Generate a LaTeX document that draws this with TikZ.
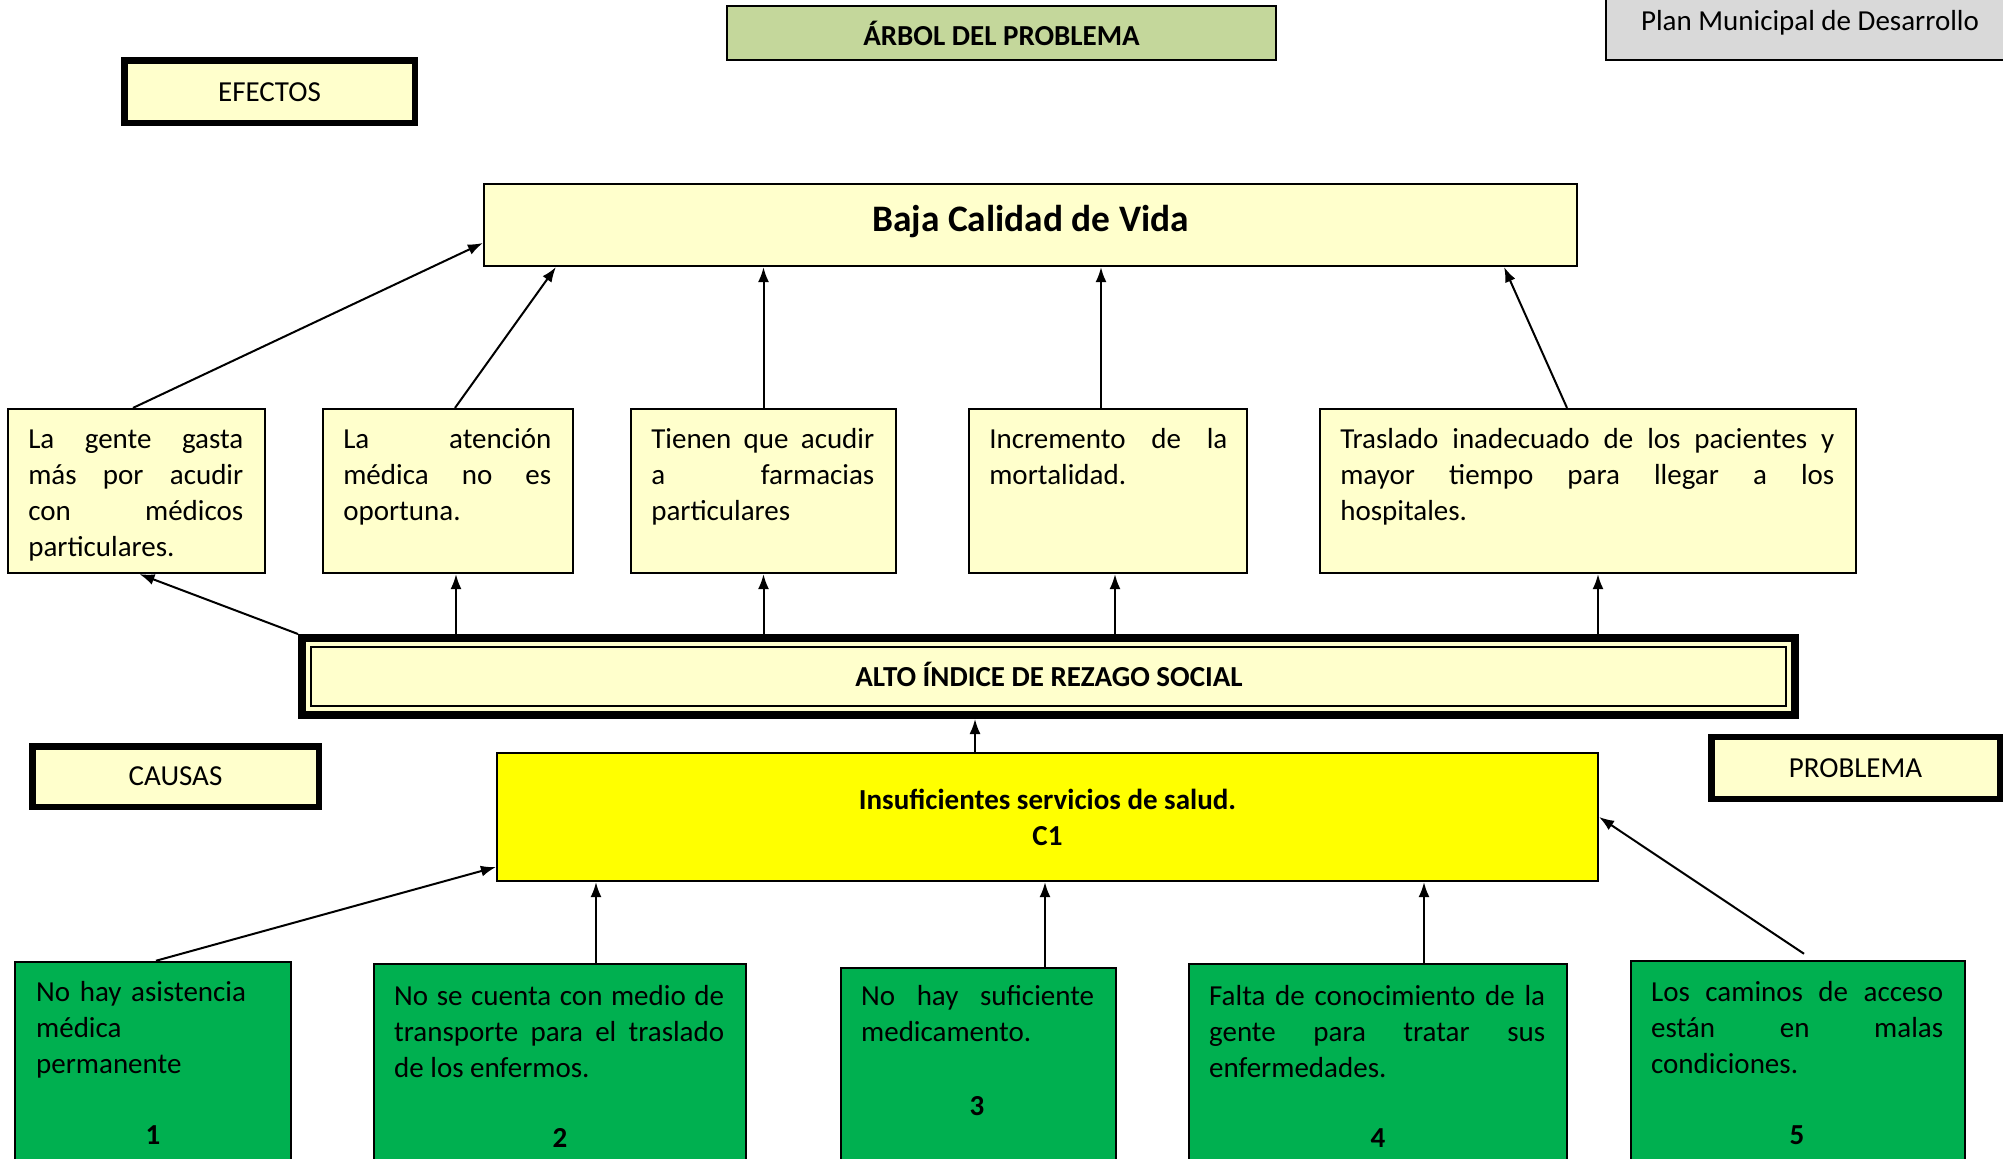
\documentclass[tikz,border=0pt]{standalone}
\usepackage{fontspec}
\setmainfont{Carlito}
\usetikzlibrary{arrows.meta,calc}
\hyphenpenalty=10000
\exhyphenpenalty=10000
\hbadness=10000
\definecolor{lyel}{HTML}{FFFFCC}
\definecolor{cgreen}{HTML}{00B050}
\definecolor{tgreen}{HTML}{C4D79B}
\definecolor{lgray}{HTML}{D9D9D9}
\definecolor{byel}{HTML}{FFFF00}
\begin{document}
\begin{tikzpicture}[x=0.5pt,y=-0.5pt,
  every node/.style={font=\fontsize{14.5}{18}\selectfont, inner sep=0pt},
  thinbox/.style={draw=black, line width=1.1pt, rectangle},
  effbox/.style={thinbox, fill=lyel, minimum height=82pt},
  causebox/.style={thinbox, fill=cgreen, line width=1.25pt},
  thickbox/.style={draw=black, line width=3.25pt, fill=lyel, rectangle},
  txt/.style={anchor=north west, align=justify},
  ltxt/.style={anchor=north west, align=left},
  num/.style={font=\fontsize{14.5}{18}\selectfont\bfseries},
  arr/.style={-{Latex[length=7.5pt,width=5.5pt]}, line width=1pt}]
\useasboundingbox (0,0) rectangle (2003,1158);
% header boxes
\node[thinbox, fill=tgreen, minimum width=274.5pt, minimum height=27pt, font=\fontsize{14.5}{18}\selectfont\bfseries] (title) at (1001.5,33) {ÁRBOL DEL PROBLEMA};
\node[thinbox, fill=lgray, minimum width=202pt, minimum height=43pt] (plan) at (1808,17) {};
\node (plant) at (1810,23) {Plan Municipal de Desarrollo};
\node[thickbox, minimum width=145.25pt, minimum height=31.25pt] (efectos) at (269.5,91.75) {EFECTOS};
\node[thickbox, minimum width=143.25pt, minimum height=30.25pt] (causas) at (175.5,776.5) {CAUSAS};
\node[thickbox, minimum width=144.25pt, minimum height=31pt] (problema) at (1855.5,768) {PROBLEMA};
% top effect
\node[thinbox, fill=lyel, minimum width=546.5pt, minimum height=41pt] (baja) at (1030.5,225) {};
\node[font=\fontsize{18.7}{22}\selectfont\bfseries] (bajat) at (1030.5,222) {Baja Calidad de Vida};
% effects
\node[effbox, minimum width=128.5pt] (e1) at (136.5,491) {};
\node[effbox, minimum width=125pt] (e2) at (448,491) {};
\node[effbox, minimum width=132.5pt] (e3) at (763.5,491) {};
\node[effbox, minimum width=139pt] (e4) at (1108,491) {};
\node[effbox, minimum width=268pt] (e5) at (1588,491) {};
\node[txt, text width=107.5pt] (e1t) at ([xshift=10.5pt,yshift=-7.5pt]e1.north west) {\strut La gente gasta\linebreak más por acudir\linebreak con médicos\linebreak particulares.};
\node[txt, text width=104pt] (e2t) at ([xshift=10.5pt,yshift=-7.5pt]e2.north west) {\strut La atención\linebreak médica no es\linebreak oportuna.};
\node[txt, text width=111.5pt] (e3t) at ([xshift=10.5pt,yshift=-7.5pt]e3.north west) {\strut Tienen que acudir\linebreak a farmacias\linebreak particulares};
\node[txt, text width=119pt] (e4t) at ([xshift=10.5pt,yshift=-7.5pt]e4.north west) {\strut Incremento de la\linebreak mortalidad.};
\node[txt, text width=247pt] (e5t) at ([xshift=10.5pt,yshift=-7.5pt]e5.north west) {\strut Traslado inadecuado de los pacientes y\linebreak mayor tiempo para llegar a los\linebreak hospitales.};
% central problem
\node[draw=black, line width=4pt, fill=lyel, rectangle, minimum width=746.5pt, minimum height=38.5pt] (alto) at (1048.5,676.5) {};
\node[draw=black, line width=1pt, fill=lyel, rectangle, minimum width=737.5pt, minimum height=29.5pt] (altoin) at (1048.5,676.5) {};
\node[font=\fontsize{14.5}{18}\selectfont\bfseries] (altot) at (1049,674) {ALTO ÍNDICE DE REZAGO SOCIAL};
% main cause
\node[thinbox, fill=byel, minimum width=550.5pt, minimum height=64pt, align=center, font=\fontsize{14.5}{18}\selectfont\bfseries] (insuf) at (1047.5,817) {Insuficientes servicios de salud.\\C1};
% causes
\node[causebox, minimum width=138pt, minimum height=106.5pt] (c1) at (153,1068.5) {};
\node[causebox, minimum width=186pt, minimum height=105.5pt] (c2) at (560,1069.5) {};
\node[causebox, minimum width=137.5pt, minimum height=103.5pt] (c3) at (978.5,1071.5) {};
\node[causebox, minimum width=189pt, minimum height=105.5pt] (c4) at (1378,1069.5) {};
\node[causebox, minimum width=167pt, minimum height=107pt] (c5) at (1798,1068) {};
\node[ltxt, text width=117pt] (c1t) at ([xshift=11pt,yshift=-7.5pt]c1.north west) {\strut No hay asistencia\\médica\\permanente};
\node[txt, text width=165pt] (c2t) at ([xshift=10.5pt,yshift=-8.5pt]c2.north west) {\strut No se cuenta con medio de\linebreak transporte para el traslado\linebreak de los enfermos.};
\node[txt, text width=116.5pt] (c3t) at ([xshift=10.5pt,yshift=-6.8pt]c3.north west) {\strut No hay suficiente\linebreak medicamento.};
\node[txt, text width=168pt] (c4t) at ([xshift=10.5pt,yshift=-8.5pt]c4.north west) {\strut Falta de conocimiento de la\linebreak gente para tratar sus\linebreak enfermedades.};
\node[txt, text width=146pt] (c5t) at ([xshift=10.5pt,yshift=-8pt]c5.north west) {\strut Los caminos de acceso\linebreak están en malas\linebreak condiciones.};
\node[num] (n1) at (153,1135) {1};
\node[num] (n2) at (560,1138) {2};
\node[num] (n3) at (977,1106) {3};
\node[num] (n4) at (1378,1138) {4};
\node[num] (n5) at (1797,1135) {5};
% connectors: alto -> effects
\coordinate (e2b) at ([xshift=4pt]e2.south);
\coordinate (e4b) at ([xshift=3.5pt]e4.south);
\coordinate (e5b) at ([xshift=5pt]e5.south);
\draw[arr] (alto.north west) -- ([xshift=1.5pt]e1.south);
\draw[arr] (e2b |- alto.north) -- (e2b);
\draw[arr] (e3.south |- alto.north) -- (e3.south);
\draw[arr] (e4b |- alto.north) -- (e4b);
\draw[arr] (e5b |- alto.north) -- (e5b);
% effects -> baja
\coordinate (e4n) at ([xshift=-3.5pt]e4.north);
\draw[arr] ([xshift=-1.75pt]e1.north) -- ([yshift=-9pt]baja.west);
\draw[arr] ([xshift=3.5pt]e2.north) -- ([xshift=36.5pt]baja.south west);
\draw[arr] (e3.north) -- (e3.north |- baja.south);
\draw[arr] (e4n) -- (e4n |- baja.south);
\draw[arr] ([xshift=-10.5pt]e5.north) -- ([xshift=-37pt]baja.south east);
% insuf -> alto
\coordinate (ib) at ([xshift=-36.25pt]insuf.north);
\draw[arr] (ib) -- (ib |- alto.south);
% causes -> insuf
\coordinate (c2n) at ([xshift=18pt]c2.north);
\coordinate (c3n) at ([xshift=33.25pt]c3.north);
\coordinate (c4n) at ([xshift=23pt]c4.north);
\draw[arr] ([xshift=1.5pt]c1.north) -- ([yshift=-25pt]insuf.west);
\draw[arr] (c2n) -- (c2n |- insuf.south);
\draw[arr] (c3n) -- (c3n |- insuf.south);
\draw[arr] (c4n) -- (c4n |- insuf.south);
\draw[arr] ([xshift=3pt,yshift=3pt]c5.north) -- (insuf.east);
\end{tikzpicture}
\end{document}
